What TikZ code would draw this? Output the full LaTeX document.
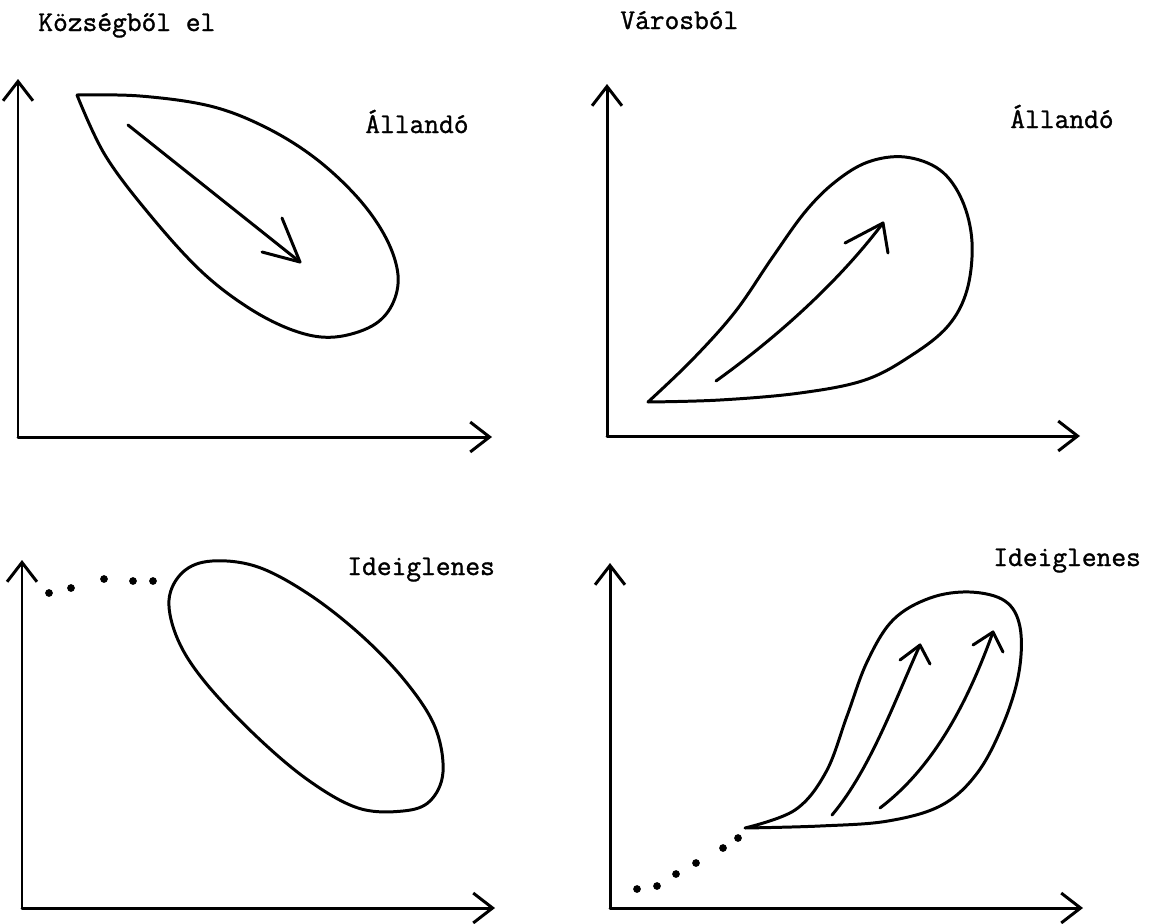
\documentclass[tikz,border=0pt]{standalone}
\usepackage{fontspec}
\newfontfamily\twfont{Latin Modern Mono}[FakeBold=1.2]
\tikzset{
  ln/.style={line width=1.7pt, line cap=round, line join=round},
  axis/.style={ln, -{Straight Barb[length=11pt,width=17pt,line width=1.7pt]}},
  lbl/.style={inner sep=0pt, anchor=base west, font=\twfont\fontsize{16.3}{19}\selectfont},
  dot/.style={fill=black}
}
\usetikzlibrary{arrows.meta}
\begin{document}
\begin{tikzpicture}[x=0.02cm,y=-0.02cm]
\useasboundingbox (0,0) rectangle (1156,923);
% ---------- titles and labels
\node[lbl] (t1) at (38,31) {Községből el};
\node[lbl] (t2) at (620,29) {Városból};
\node[lbl] (l1) at (365,133) {Állandó};
\node[lbl] (l2) at (1010,128) {Állandó};
\node[lbl] (l3) at (347,575) {Ideiglenes};
\node[lbl] (l4) at (993,566) {Ideiglenes};
% ---------- axes
\coordinate (o1) at (18,437);  \coordinate (y1) at (18,79);  \coordinate (x1) at (492,437);
\coordinate (o2) at (607,436); \coordinate (y2) at (607,84); \coordinate (x2) at (1080,436);
\coordinate (o3) at (22,908);  \coordinate (y3) at (22,560); \coordinate (x3) at (495,908);
\coordinate (o4) at (610,908); \coordinate (y4) at (610,563);\coordinate (x4) at (1083,908);
\draw[axis] (o1) -- (y1); \draw[axis] (o1) -- (x1);
\draw[axis] (o2) -- (y2); \draw[axis] (o2) -- (x2);
\draw[axis] (o3) -- (y3); \draw[axis] (o3) -- (x3);
\draw[axis] (o4) -- (y4); \draw[axis] (o4) -- (x4);
% ---------- panel 1: Községből el / Állandó
\draw[ln] plot[smooth, tension=0.6] coordinates {(77,95) (140,96) (210,106) (265,127) (315,158) (358,198) (386,238) (398,275) (392,305) (372,326) (335,337) (298,332) (252,310) (202,272) (150,215) (105,155) (77,95)};
\coordinate (a1s) at (128,125); \coordinate (a1t) at (300,262);
\draw[ln] (a1s) -- (a1t);
\draw[ln] (282,218) -- (a1t) -- (262,252);
% ---------- panel 2: Városból / Állandó
\draw[ln] plot[smooth, tension=0.6] coordinates {(648,402) (692,360) (735,312) (772,258) (805,212) (835,182) (868,162) (905,157) (940,170) (962,200) (972,242) (967,290) (948,326) (912,355) (865,380) (800,393) (720,400) (648,402)};
\coordinate (a2s) at (716,381); \coordinate (a2t) at (883,223);
\draw[ln] (a2s) .. controls (780,335) and (840,280) .. (a2t);
\draw[ln] (845,243) -- (a2t) -- (888,253);
% ---------- panel 3: Ideiglenes (left)
\foreach \p in {(49,593),(71,588),(104,579),(133,581),(153,581)}
  \fill[dot] \p circle[radius=2.2pt];
\draw[ln] plot[smooth cycle, tension=0.6] coordinates {(169,600) (183,572) (212,561) (258,567) (310,595) (362,636) (406,682) (435,727) (443,772) (430,801) (403,811) (358,808) (308,780) (255,735) (205,682) (178,640)};
% ---------- panel 4: Ideiglenes (right)
\foreach \p in {(637,889),(657,886),(676,874),(696,863),(723,848),(738,838)}
  \fill[dot] \p circle[radius=2.2pt];
\draw[ln] plot[smooth, tension=0.6] coordinates {(745,828) (795,810) (826,772) (847,716) (867,662) (893,620) (930,598) (970,592) (1005,601) (1020,627) (1019,672) (1004,722) (978,772) (942,805) (888,821) (820,826) (745,828)};
\coordinate (a3s) at (832,815); \coordinate (a3t) at (920,645);
\draw[ln] (a3s) .. controls (870,770) and (895,700) .. (a3t);
\draw[ln] (900,660) -- (a3t) -- (930,664);
\coordinate (a4s) at (880,808); \coordinate (a4t) at (993,632);
\draw[ln] (a4s) .. controls (930,770) and (965,710) .. (a4t);
\draw[ln] (973,645) -- (a4t) -- (1003,652);
\end{tikzpicture}
\end{document}
